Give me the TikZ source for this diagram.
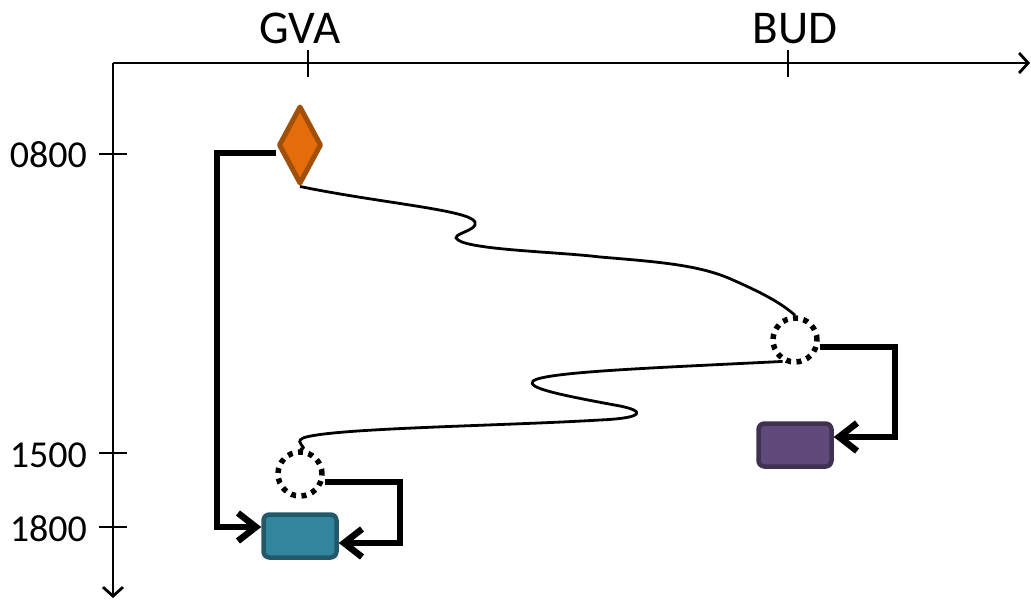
\documentclass[tikz,border=0pt]{standalone}
\usepackage{fontspec}
\setmainfont{Carlito}
\usetikzlibrary{arrows.meta,shapes.geometric,backgrounds}
\definecolor{orfill}{HTML}{E46C0A}
\definecolor{ordraw}{HTML}{A0500A}
\definecolor{tealfill}{HTML}{31859C}
\definecolor{tealdraw}{HTML}{215968}
\definecolor{purfill}{HTML}{604A7B}
\definecolor{purdraw}{HTML}{3F3151}
\tikzset{
  axisarrow/.style={line width=2.8pt,-{Straight Barb[length=9pt,width=20pt,line width=2.8pt]}},
  tick/.style={line width=2.8pt},
  biglabel/.style={font=\fontsize{47}{47}\selectfont, inner sep=0pt},
  timelabel/.style={font=\fontsize{38}{38}\selectfont, inner sep=0pt, anchor=east},
  flow/.style={line width=6.5pt,-{Straight Barb[length=18pt,width=28pt,line width=6.5pt]}},
  wave/.style={line width=2.8pt},
  event/.style={circle, draw=black, line width=5.5pt, dash pattern=on 5pt off 5.5pt, minimum size=44pt, inner sep=0pt},
  taskbox/.style={rectangle, rounded corners=6pt, line width=4.5pt, minimum width=73pt, minimum height=43pt, inner sep=0pt},
}
\begin{document}
\begin{tikzpicture}[x=1pt,y=-1pt]
\useasboundingbox (0,0) rectangle (1031,600);
% axes
\coordinate (o) at (113,63);
\coordinate (xe) at (1030,63);
\coordinate (ye) at (113,598);
\draw[axisarrow] (o) -- (xe);
\draw[axisarrow] (o) -- (ye);
% x ticks
\coordinate (gvat) at (308,63);
\coordinate (budt) at (788,63);
\draw[tick] ([yshift=13pt]gvat) -- ([yshift=-14pt]gvat);
\draw[tick] ([yshift=13pt]budt) -- ([yshift=-14pt]budt);
\node[biglabel, anchor=base] (gva) at (300,43) {GVA};
\node[biglabel, anchor=base] (bud) at (795,43) {BUD};
% y ticks
\coordinate (t0800) at (113,154);
\coordinate (t1500) at (113,453);
\coordinate (t1800) at (113,527);
\foreach \t in {t0800,t1500,t1800}{
  \draw[tick] ([xshift=-14pt]\t) -- ([xshift=14pt]\t);
}
\node[timelabel] (l0800) at (87,155) {0800};
\node[timelabel] (l1500) at (87,455) {1500};
\node[timelabel] (l1800) at (87,529) {1800};
% nodes
\node[diamond, draw=ordraw, fill=orfill, line width=5pt, line join=round, minimum width=43pt, minimum height=78pt, inner sep=0pt] (d) at (300,145) {};
\node[event] (c1) at (795,340) {};
\node[event] (c2) at (300,474) {};
\node[taskbox, draw=tealdraw, fill=tealfill] (t) at (300,536) {};
\node[taskbox, draw=purdraw, fill=purfill] (p) at (795,445) {};
% connectors
\begin{scope}[on background layer]
\draw[flow] ([yshift=-8pt]d.west) -- ++(-59,0) |- ([yshift=9pt]t.west);
\draw[flow] ([yshift=-8pt]c2.east) -- ++(75,0) |- ([yshift=-7pt]t.east);
\draw[flow] ([yshift=-7pt]c1.east) -- ++(75,0) |- ([yshift=8pt]p.east);
\draw[wave] (d.south) .. controls (380,203) and (470,210) .. (475,222)
  .. controls (479,231) and (448,234) .. (458,240)
  .. controls (472,250) and (560,252) .. (600,257)
  .. controls (660,262) and (700,265) .. (733,280)
  .. controls (760,292) and (780,302) .. (c1.north);
\draw[wave] (c1.240) .. controls (650,368) and (545,372) .. (533,381)
  .. controls (526,388) and (560,395) .. (620,406)
  .. controls (645,411) and (645,418) .. (600,420)
  .. controls (500,426) and (330,428) .. (303,438)
  .. controls (293,443) and (310,448) .. (c2.north);
\end{scope}
\end{tikzpicture}
\end{document}
